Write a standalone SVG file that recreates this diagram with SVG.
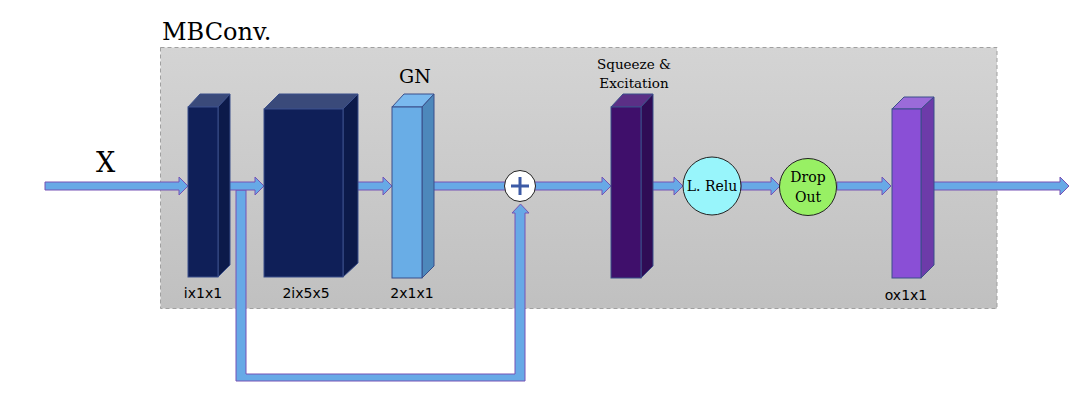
<svg xmlns="http://www.w3.org/2000/svg" width="1085" height="401" viewBox="0 0 1085 401">
<defs>
<linearGradient id="bg" x1="0" y1="0" x2="0" y2="1">
<stop offset="0" stop-color="#d4d4d4"/>
<stop offset="1" stop-color="#c0c0c0"/>
</linearGradient>
<style>
.arr{fill:#67a9e6;stroke:#7652b5;stroke-width:1}
.serif{font-family:"DejaVu Serif","Liberation Serif",serif;fill:#000}
.sans{font-family:"DejaVu Sans","Liberation Sans",sans-serif;fill:#000;font-size:14px;text-anchor:middle}
.edge{stroke:#3b4f8a;stroke-width:1}
</style>
</defs>
<rect width="1085" height="401" fill="#fff"/>
<g id="container">
<rect x="160.5" y="47.5" width="836.5" height="261" fill="url(#bg)" stroke="#a0a0a0" stroke-dasharray="4,3" stroke-width="1"/>
<text class="serif" x="162" y="40" font-size="24">MBConv.</text>
</g>
<g id="connectors">
<path class="arr" d="M45,182 H179 V177 L188,186 L179,195 V190 H45 Z"/>
<path class="arr" d="M236,190 H246 V374 H515 V213 H512 L520.5,204 L529,213 H525 V381 H236 Z"/>
<path class="arr" d="M226,182 H255 V177 L264,186 L255,195 V190 H226 Z"/>
<path class="arr" d="M353,182 H383 V177 L392,186 L383,195 V190 H353 Z"/>
<path class="arr" d="M432,182 H505 V190 H432 Z"/>
<path class="arr" d="M535,182 H602 V177 L611,186 L602,195 V190 H535 Z"/>
<path class="arr" d="M645,182 H674 V177 L683,186 L674,195 V190 H645 Z"/>
<path class="arr" d="M741,182 H771 V177 L780,186 L771,195 V190 H741 Z"/>
<path class="arr" d="M837,182 H882 V177 L891,186 L882,195 V190 H837 Z"/>
<path class="arr" d="M921,182 H1060 V177 L1069,186 L1060,195 V190 H921 Z"/>
<text class="serif" x="96" y="172" font-size="27">X</text>
</g>
<g id="ix1x1">
<polygon points="188,107 200,94 230,94 218,107" fill="#3a4a7a" class="edge"/>
<polygon points="218,107 230,94 230,265 218,277" fill="#0c1a4a" class="edge"/>
<rect x="188" y="107" width="30" height="170" fill="#0f1f58" class="edge"/>
<text class="sans" x="203" y="298">ix1x1</text>
</g>
<g id="c2ix5x5">
<polygon points="264,109 279,94 358,94 343,109" fill="#3a4a7a" class="edge"/>
<polygon points="343,109 358,94 358,263 343,277" fill="#0c1a4a" class="edge"/>
<rect x="264" y="109" width="79" height="168" fill="#0f1f58" class="edge"/>
<text class="sans" x="306" y="298">2ix5x5</text>
</g>
<g id="gn">
<polygon points="392,107 404,94 434,94 422,107" fill="#7ab9ee" class="edge"/>
<polygon points="422,107 434,94 434,266 422,278" fill="#4d88bb" class="edge"/>
<rect x="392" y="107" width="30" height="171" fill="#69ade6" class="edge"/>
<text class="serif" x="415" y="83" font-size="19" text-anchor="middle">GN</text>
<text class="sans" x="412" y="298">2x1x1</text>
</g>
<g id="plus">
<circle cx="520" cy="186" r="15.5" fill="#fff" stroke="#222" stroke-width="1"/>
<path d="M511,186 H529 M520,177 V195" stroke="#3c5aa6" stroke-width="3"/>
</g>
<g id="se">
<polygon points="611,107 623,94 653,94 641,107" fill="#5b2f86" class="edge"/>
<polygon points="641,107 653,94 653,266 641,278" fill="#2f0c55" class="edge"/>
<rect x="611" y="107" width="30" height="171" fill="#3f0f6b" class="edge"/>
<text class="serif" x="634" y="69" font-size="13.5" text-anchor="middle">Squeeze &amp;</text>
<text class="serif" x="634" y="88" font-size="13.5" text-anchor="middle">Excitation</text>
</g>
<g id="lrelu">
<circle cx="712" cy="186" r="29" fill="#98f5fb" stroke="#222" stroke-width="1"/>
<text class="serif" x="712" y="191" font-size="14" text-anchor="middle">L. Relu</text>
</g>
<g id="dropout">
<circle cx="808" cy="187" r="28.5" fill="#98f064" stroke="#222" stroke-width="1"/>
<text class="serif" x="808" y="182" font-size="14" text-anchor="middle">Drop</text>
<text class="serif" x="808" y="202" font-size="14" text-anchor="middle">Out</text>
</g>
<g id="ox1x1">
<polygon points="892,109 904,97 934,97 921,109" fill="#9b6bd9" class="edge"/>
<polygon points="921,109 934,97 934,265 921,278" fill="#6d3ba9" class="edge"/>
<rect x="892" y="109" width="29" height="169" fill="#8a4fd6" class="edge"/>
<text class="sans" x="906" y="300">ox1x1</text>
</g>
</svg>
